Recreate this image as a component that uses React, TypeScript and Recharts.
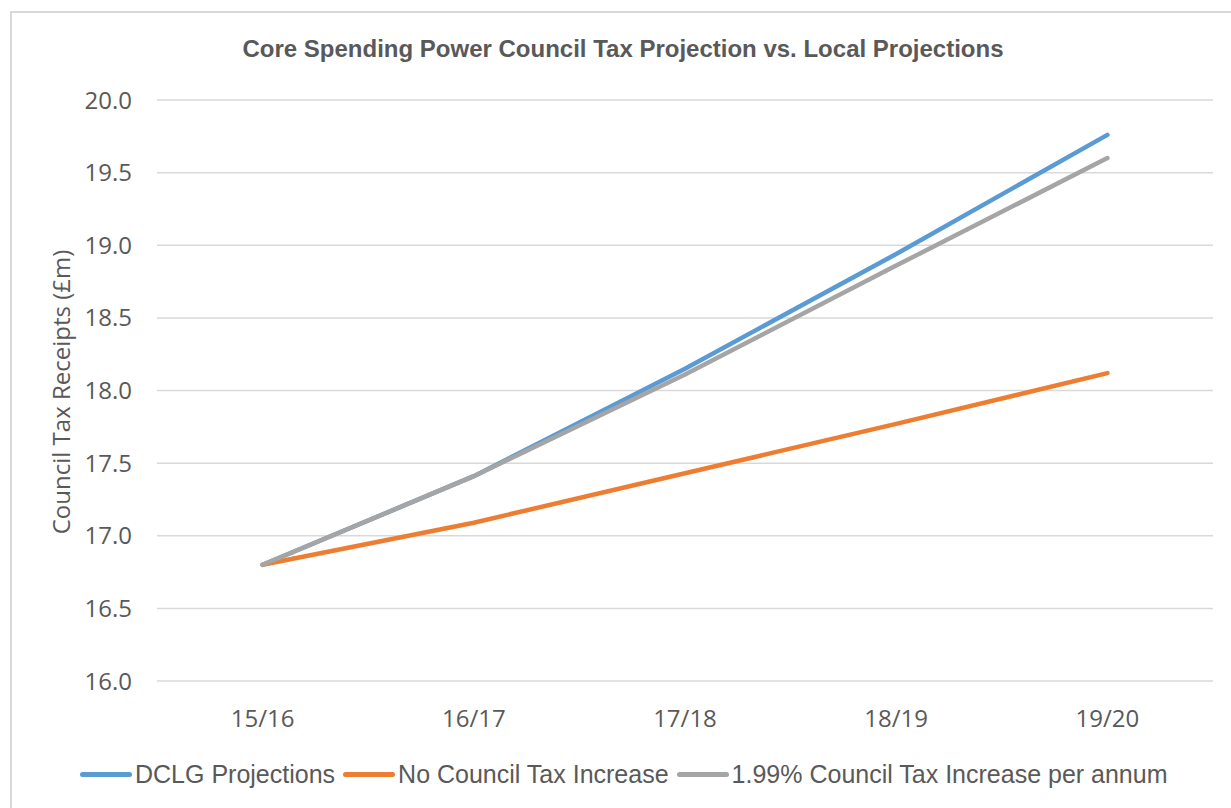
import React from 'react';
import { LineChart, Line, XAxis, YAxis, CartesianGrid, Label } from 'recharts';

const YEARS = ['15/16', '16/17', '17/18', '18/19', '19/20'];
const DCLG = [16.8, 17.41, 18.15, 18.94, 19.76];
const NO_INCREASE = [16.8, 17.09, 17.43, 17.77, 18.12];
const INCREASE_199 = [16.8, 17.41, 18.11, 18.86, 19.6];
const Y_TICKS = [16, 16.5, 17, 17.5, 18, 18.5, 19, 19.5, 20];

const SERIES = [
  { key: 'dclg', name: 'DCLG Projections', color: '#5B9BD5' },
  { key: 'none', name: 'No Council Tax Increase', color: '#ED7D31' },
  { key: 'inc', name: '1.99% Council Tax Increase per annum', color: '#A5A5A5' },
];

const data = YEARS.map((name, i) => ({
  name,
  dclg: DCLG[i],
  none: NO_INCREASE[i],
  inc: INCREASE_199[i],
}));

const TEXT = '#595959';
const TICK_FONT = '"Open Sans", sans-serif';
const NARROW = '"Liberation Sans Narrow", "Liberation Sans", sans-serif';

const YLabel = () => (
  <text
    x={60}
    y={392}
    transform="rotate(-90, 60, 392)"
    textAnchor="middle"
    dominantBaseline="central"
    fill={TEXT}
    style={{ fontFamily: TICK_FONT, fontSize: 24 }}
  >
    Council Tax Receipts (£m)
  </text>
);

export default function App() {
  return (
    <div style={{ position: 'absolute', left: 0, top: 0, width: 1231, height: 808, background: '#fff', overflow: 'hidden' }}>
      <div style={{ position: 'absolute', left: 10, top: 11, width: 1240, height: 820, border: '2px solid #d9d9d9' }} />
      <div
        style={{
          position: 'absolute', left: 0, top: 35, width: 1246, textAlign: 'center',
          fontFamily: NARROW, fontWeight: 'bold', fontSize: 24, color: TEXT,
        }}
      >
        Core Spending Power Council Tax Projection vs. Local Projections
      </div>
      <div style={{ position: 'absolute', left: 0, top: 0 }}>
        <LineChart width={1231} height={808} data={data} margin={{ top: 100, right: 18, bottom: 67, left: 57 }}>
          <CartesianGrid vertical={false} stroke="#d9d9d9" strokeWidth={1.5} />
          <XAxis
            dataKey="name"
            axisLine={false}
            tickLine={false}
            tickSize={0}
            tickMargin={29}
            height={60}
            padding={{ left: 105.6, right: 105.6 }}
            tick={{ fill: TEXT, fontSize: 24, fontFamily: TICK_FONT }}
          />
          <YAxis
            domain={[16, 20]}
            ticks={Y_TICKS}
            interval={0}
            width={100}
            axisLine={false}
            tickLine={false}
            tickSize={0}
            tickMargin={25}
            tickFormatter={(v: number) => v.toFixed(1)}
            tick={{ fill: TEXT, fontSize: 24, fontFamily: TICK_FONT }}
          >
            <Label content={<YLabel />} />
          </YAxis>
          {SERIES.map((s) => (
            <Line
              key={s.key}
              type="linear"
              dataKey={s.key}
              name={s.name}
              stroke={s.color}
              strokeWidth={4.5}
              strokeLinecap="round"
              dot={false}
              activeDot={false}
              isAnimationActive={false}
            />
          ))}
        </LineChart>
      </div>
      <div
        style={{
          position: 'absolute', left: 80, top: 760, display: 'flex', alignItems: 'center',
          fontFamily: NARROW, fontSize: 25, color: TEXT, whiteSpace: 'nowrap',
        }}
      >
        {SERIES.map((s) => (
          <div key={s.key} style={{ display: 'flex', alignItems: 'center', marginRight: 8 }}>
            <span style={{ display: 'inline-block', width: 52, height: 5, borderRadius: 3, background: s.color, marginRight: 3 }} />
            <span>{s.name}</span>
          </div>
        ))}
      </div>
    </div>
  );
}
